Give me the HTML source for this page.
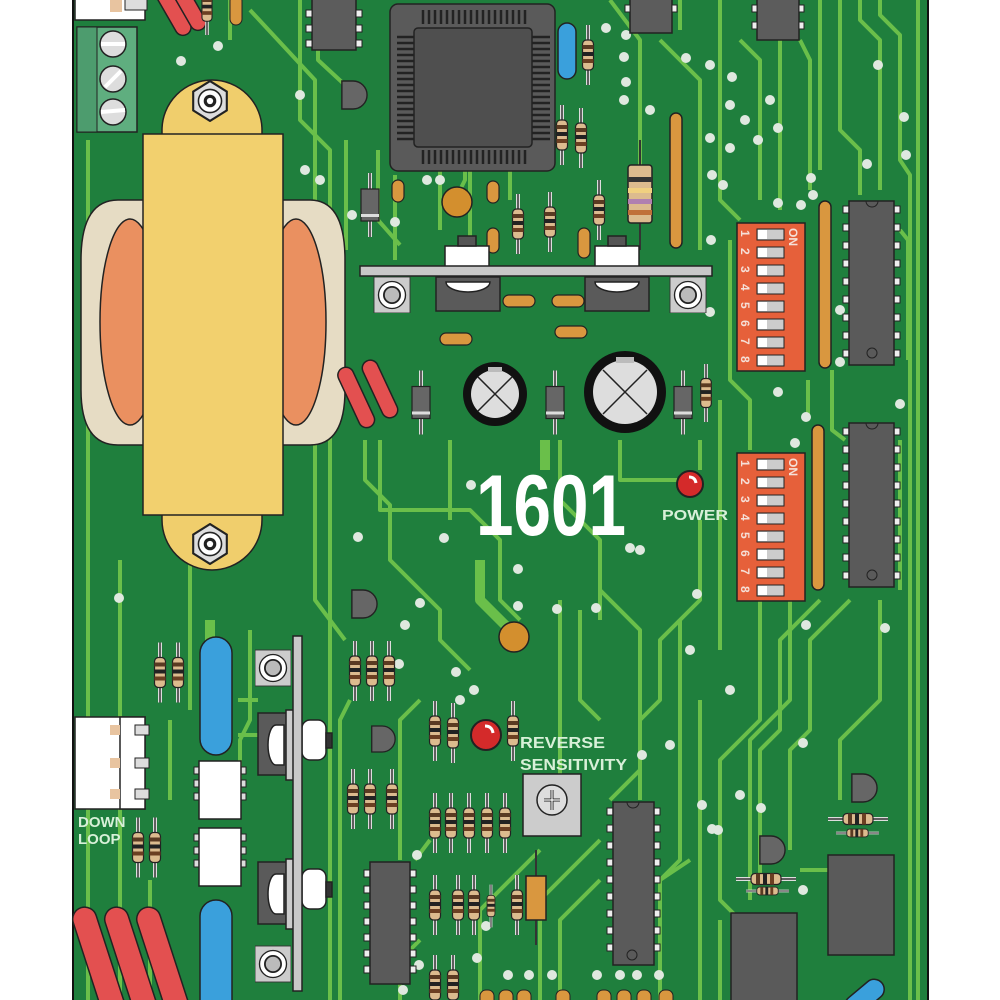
<!DOCTYPE html>
<html><head><meta charset="utf-8"><style>html,body{margin:0;padding:0;background:#fff}svg{display:block}</style></head>
<body>
<svg width="1000" height="1000" viewBox="0 0 1000 1000" xmlns="http://www.w3.org/2000/svg">
<defs>
<symbol id="rv" viewBox="0 0 14 60" overflow="visible">
<line x1="7" y1="0" x2="7" y2="60" stroke="#ddd" stroke-width="4"/>
<line x1="7" y1="0" x2="7" y2="60" stroke="#333" stroke-width="1.5"/>
<rect x="1.5" y="15" width="11" height="30" rx="4" fill="#dcbb8e" stroke="#222" stroke-width="1.2"/>
<rect x="1.5" y="20" width="11" height="4" fill="#5a3a22"/>
<rect x="1.5" y="27" width="11" height="4" fill="#222"/>
<rect x="1.5" y="34" width="11" height="4" fill="#6b3f22"/>
</symbol>
<symbol id="rh" viewBox="0 0 60 14" overflow="visible">
<line x1="0" y1="7" x2="60" y2="7" stroke="#ddd" stroke-width="4"/>
<line x1="0" y1="7" x2="60" y2="7" stroke="#333" stroke-width="1.5"/>
<rect x="15" y="1.5" width="30" height="11" rx="4" fill="#dcbb8e" stroke="#222" stroke-width="1.2"/>
<rect x="20" y="1.5" width="4" height="11" fill="#5a3a22"/>
<rect x="27" y="1.5" width="4" height="11" fill="#222"/>
<rect x="34" y="1.5" width="4" height="11" fill="#6b3f22"/>
</symbol>
<symbol id="dv" viewBox="0 0 20 64" overflow="visible">
<line x1="10" y1="0" x2="10" y2="64" stroke="#ddd" stroke-width="4"/>
<line x1="10" y1="0" x2="10" y2="64" stroke="#333" stroke-width="1.5"/>
<rect x="1" y="16" width="18" height="32" fill="#666" stroke="#222" stroke-width="1.2"/>
<rect x="1" y="41" width="18" height="3" fill="#ddd"/>
</symbol>
<symbol id="ring" viewBox="0 0 40 40">
<rect x="0" y="0" width="40" height="40" fill="#ccc" stroke="#333"/>
<circle cx="20" cy="20" r="15" fill="#fff" stroke="#222" stroke-width="1.5"/>
<circle cx="20" cy="20" r="9" fill="#bbb" stroke="#222" stroke-width="2"/>
</symbol>
<symbol id="nut" viewBox="-20 -20 40 40">
<polygon points="0,-19 16,-9 16,9 0,19 -16,9 -16,-9" fill="#ddd" stroke="#222" stroke-width="2"/>
<circle r="11" fill="#fff" stroke="#222" stroke-width="1.5"/>
<circle r="6" fill="#222"/><circle r="3" fill="#fff"/>
</symbol>
<symbol id="tr" viewBox="0 0 30 34">
<path d="M2,2 h12 a15,15 0 0 1 0,30 h-12 z" fill="#666" stroke="#222" stroke-width="1.5"/>
</symbol>
</defs>

<rect x="0" y="0" width="1000" height="1000" fill="#fff"/>
<rect x="73" y="-2" width="855" height="1004" fill="#1f7f3d" stroke="#111" stroke-width="2"/>

<!-- traces -->
<g fill="none" stroke="#6abf4a" stroke-width="4" stroke-linejoin="round">
<path d="M88,140 V1000"/><path d="M120,560 V1000"/><path d="M300,0 V120 L330,150 V620 L345,640"/>
<path d="M318,0 V60 L345,85"/><path d="M346,140 V250"/>
<path d="M230,0 V40"/><path d="M250,10 L315,80 V600 L330,620 V1000"/>
<path d="M378,150 V220 L400,245"/><path d="M395,175 V260"/>
<path d="M440,170 V230"/><path d="M470,170 V240"/>
<path d="M380,440 V510 H470 L500,540 V600 L520,620"/>
<path d="M365,440 V480 L390,505 V560 L440,610 V640 L470,670"/>
<path d="M450,440 V520"/><path d="M560,440 V500 L600,540 V620"/>
<path d="M620,440 V480 H700"/><path d="M700,440 V470"/>
<path d="M610,0 L640,40 V220"/><path d="M660,40 L700,80 V250"/>
<path d="M680,0 V30"/><path d="M720,0 V200 L740,220"/>
<path d="M740,40 L760,60 V200"/><path d="M780,40 V210"/><path d="M800,40 L810,60 V190"/>
<path d="M820,0 V170"/><path d="M840,0 V130 L860,150 V195"/><path d="M860,0 V20 L880,40 V190"/>
<path d="M880,0 V15 L900,35 V160 L910,175 V1000"/><path d="M918,0 V1000"/>
<path d="M730,240 V380 L750,400 V450"/><path d="M720,400 V650"/>
<path d="M808,380 V420"/><path d="M832,370 V430 L845,440"/>
<path d="M900,230 L908,240 V360"/><path d="M900,440 V590"/>
<path d="M700,520 V600 L660,640 V700 L640,720 V800"/>
<path d="M760,600 V720 L720,760 V900 L740,920"/>
<path d="M790,600 V700 L750,740 V900"/>
<path d="M820,600 L780,640 V730 L760,750 V880"/>
<path d="M850,600 L810,640 V730 L790,750 V850"/>
<path d="M880,600 V700 L840,740 V800"/>
<path d="M600,590 L640,630 V770 L610,800"/>
<path d="M560,600 V780"/><path d="M580,610 V700 L600,720"/>
<path d="M680,620 V860 L660,880 V1000"/><path d="M700,700 V1000"/>
<path d="M540,850 L480,910 V1000"/><path d="M600,840 L540,900 V1000"/><path d="M600,880 L560,920 V1000"/>
<path d="M660,880 L690,860"/>
<path d="M800,870 H870 M720,920 V1000"/>
<path d="M420,700 L400,720 V860"/><path d="M415,860 L430,840"/>
<path d="M350,700 L340,720 V1000"/><path d="M420,940 L400,960 V1000"/>
<path d="M250,630 V720 L240,740 V800"/><path d="M190,560 V710"/><path d="M170,720 V800"/>
<path d="M150,880 V1000"/>
<path d="M238,700 H258"/><path d="M238,735 H258"/>
<path d="M465,150 V180 L455,200"/><path d="M510,150 V200"/>
<path d="M250,240 V440"/>
</g>
<g fill="none" stroke="#6abf4a" stroke-width="10" stroke-linejoin="round">
<path d="M480,560 V600 L510,630"/><path d="M545,440 V470"/><path d="M210,620 V650"/>
</g>

<!-- vias -->
<g fill="#dfe8df">
<circle cx="181" cy="61" r="5"/><circle cx="218" cy="46" r="5"/><circle cx="300" cy="95" r="5"/><circle cx="305" cy="170" r="5"/><circle cx="307" cy="205" r="5"/><circle cx="320" cy="180" r="5"/><circle cx="338" cy="252" r="5"/><circle cx="352" cy="215" r="5"/><circle cx="395" cy="222" r="5"/><circle cx="427" cy="180" r="5"/><circle cx="440" cy="180" r="5"/>
<circle cx="606" cy="28" r="5"/><circle cx="626" cy="35" r="5"/><circle cx="624" cy="57" r="5"/><circle cx="626" cy="82" r="5"/><circle cx="624" cy="100" r="5"/><circle cx="686" cy="58" r="5"/><circle cx="650" cy="110" r="5"/><circle cx="710" cy="65" r="5"/><circle cx="730" cy="105" r="5"/><circle cx="732" cy="77" r="5"/><circle cx="770" cy="100" r="5"/><circle cx="745" cy="120" r="5"/><circle cx="710" cy="138" r="5"/><circle cx="730" cy="148" r="5"/><circle cx="712" cy="175" r="5"/><circle cx="723" cy="185" r="5"/><circle cx="778" cy="128" r="5"/><circle cx="758" cy="140" r="5"/><circle cx="811" cy="178" r="5"/><circle cx="801" cy="205" r="5"/><circle cx="878" cy="65" r="5"/><circle cx="904" cy="117" r="5"/><circle cx="906" cy="155" r="5"/><circle cx="867" cy="164" r="5"/><circle cx="813" cy="195" r="5"/><circle cx="778" cy="203" r="5"/>
<circle cx="710" cy="312" r="5"/><circle cx="711" cy="240" r="5"/><circle cx="778" cy="392" r="5"/><circle cx="840" cy="310" r="5"/><circle cx="840" cy="362" r="5"/><circle cx="900" cy="404" r="5"/><circle cx="806" cy="417" r="5"/><circle cx="795" cy="443" r="5"/><circle cx="630" cy="548" r="5"/><circle cx="640" cy="550" r="5"/><circle cx="697" cy="594" r="5"/><circle cx="690" cy="650" r="5"/><circle cx="730" cy="690" r="5"/><circle cx="806" cy="625" r="5"/><circle cx="885" cy="628" r="5"/>
<circle cx="471" cy="485" r="5"/><circle cx="518" cy="569" r="5"/><circle cx="444" cy="538" r="5"/><circle cx="518" cy="606" r="5"/><circle cx="557" cy="609" r="5"/><circle cx="596" cy="608" r="5"/><circle cx="456" cy="672" r="5"/><circle cx="405" cy="625" r="5"/><circle cx="399" cy="664" r="5"/><circle cx="119" cy="598" r="5"/><circle cx="358" cy="537" r="5"/><circle cx="420" cy="603" r="5"/><circle cx="460" cy="700" r="5"/>
<circle cx="474" cy="690" r="5"/><circle cx="642" cy="755" r="5"/><circle cx="670" cy="745" r="5"/><circle cx="702" cy="805" r="5"/><circle cx="718" cy="830" r="5"/><circle cx="740" cy="795" r="5"/><circle cx="761" cy="808" r="5"/><circle cx="712" cy="829" r="5"/><circle cx="803" cy="743" r="5"/><circle cx="803" cy="890" r="5"/><circle cx="417" cy="855" r="5"/><circle cx="419" cy="965" r="5"/><circle cx="403" cy="990" r="5"/><circle cx="508" cy="975" r="5"/><circle cx="529" cy="975" r="5"/><circle cx="552" cy="975" r="5"/><circle cx="597" cy="975" r="5"/><circle cx="620" cy="975" r="5"/><circle cx="637" cy="975" r="5"/><circle cx="659" cy="975" r="5"/><circle cx="477" cy="958" r="5"/><circle cx="486" cy="926" r="5"/>
</g>

<!-- top left connector -->
<rect x="75" y="-2" width="70" height="22" fill="#fff" stroke="#222" stroke-width="1.5"/>
<rect x="110" y="-2" width="12" height="14" fill="#e8c4a0"/><rect x="125" y="-2" width="22" height="12" fill="#ddd" stroke="#222"/>
<!-- terminal block -->
<rect x="77" y="27" width="60" height="105" fill="#5fae7f" stroke="#222" stroke-width="1.5"/>
<rect x="77" y="27" width="20" height="105" fill="#4d9c6e" stroke="#222" stroke-width="1"/>
<g stroke="#222" stroke-width="1.5"><circle cx="113" cy="44" r="13" fill="#ddd"/><circle cx="113" cy="79" r="13" fill="#ddd"/><circle cx="113" cy="112" r="13" fill="#ddd"/>
<line x1="101" y1="44" x2="125" y2="44" stroke="#fff" stroke-width="4"/><line x1="105" y1="87" x2="121" y2="71" stroke="#fff" stroke-width="4"/><line x1="101" y1="112" x2="125" y2="110" stroke="#fff" stroke-width="4"/></g>
<!-- red caps top -->
<g stroke="#222" stroke-width="1.5" fill="#e35050"><rect x="165" y="-20" width="16" height="58" rx="8" transform="rotate(-30 173 10)"/><rect x="180" y="-25" width="16" height="58" rx="8" transform="rotate(-30 188 5)"/></g>
<use href="#rv" x="200" y="-20" width="14" height="55"/>
<rect x="230" y="-5" width="12" height="30" rx="6" fill="#d9973f" stroke="#222"/>

<!-- transformer -->
<path d="M118,200 H310 Q345,200 345,260 V390 Q345,445 310,445 H118 Q81,445 81,390 V260 Q81,200 118,200 Z" fill="#e6dcc4" stroke="#222" stroke-width="1.5"/>
<ellipse cx="130" cy="322" rx="30" ry="103" fill="#ea9060" stroke="#222" stroke-width="1.5"/>
<ellipse cx="296" cy="322" rx="30" ry="103" fill="#ea9060" stroke="#222" stroke-width="1.5"/>
<path d="M162,155 V130 A50,50 0 0 1 262,130 V155 Z" fill="#f0ce6c" stroke="#222" stroke-width="1.5"/>
<path d="M162,500 V520 A50,50 0 0 0 262,520 V500 Z" fill="#f0ce6c" stroke="#222" stroke-width="1.5"/>
<rect x="143" y="134" width="140" height="381" fill="#f2d06e" stroke="#222" stroke-width="1.5"/>
<use href="#nut" x="189" y="80" width="42" height="42"/>
<use href="#nut" x="189" y="523" width="42" height="42"/>

<!-- top ICs -->
<g fill="#5c5c5c" stroke="#222" stroke-width="1.5">
<rect x="312" y="-5" width="44" height="55"/><rect x="630" y="-5" width="42" height="38"/><rect x="757" y="-5" width="42" height="45"/>
</g>
<g fill="#eee" stroke="#222"><rect x="306" y="10" width="6" height="7"/><rect x="306" y="25" width="6" height="7"/><rect x="306" y="40" width="6" height="7"/><rect x="356" y="10" width="6" height="7"/><rect x="356" y="25" width="6" height="7"/><rect x="356" y="40" width="6" height="7"/>
<rect x="625" y="5" width="5" height="7"/><rect x="672" y="5" width="5" height="7"/><rect x="752" y="5" width="5" height="7"/><rect x="752" y="22" width="5" height="7"/><rect x="799" y="5" width="5" height="7"/><rect x="799" y="22" width="5" height="7"/></g>
<use href="#tr" x="340" y="78" width="28" height="34"/>

<!-- QFP -->
<rect x="390" y="4" width="165" height="167" rx="8" fill="#5a5a5a" stroke="#222" stroke-width="1.5"/>
<g stroke="#222" stroke-width="2.5">
<path d="M423,10 v14 M429,10 v14 M435,10 v14 M441,10 v14 M447,10 v14 M453,10 v14 M459,10 v14 M465,10 v14 M471,10 v14 M477,10 v14 M483,10 v14 M489,10 v14 M495,10 v14 M501,10 v14 M507,10 v14 M513,10 v14 M519,10 v14 M525,10 v14"/>
<path d="M423,150 v14 M429,150 v14 M435,150 v14 M441,150 v14 M447,150 v14 M453,150 v14 M459,150 v14 M465,150 v14 M471,150 v14 M477,150 v14 M483,150 v14 M489,150 v14 M495,150 v14 M501,150 v14 M507,150 v14 M513,150 v14 M519,150 v14 M525,150 v14"/>
<path d="M397,37 h18 M397,43 h18 M397,49 h18 M397,55 h18 M397,61 h18 M397,67 h18 M397,73 h18 M397,79 h18 M397,85 h18 M397,91 h18 M397,97 h18 M397,103 h18 M397,109 h18 M397,115 h18 M397,121 h18 M397,127 h18 M397,133 h18 M397,139 h18"/>
<path d="M532,37 h18 M532,43 h18 M532,49 h18 M532,55 h18 M532,61 h18 M532,67 h18 M532,73 h18 M532,79 h18 M532,85 h18 M532,91 h18 M532,97 h18 M532,103 h18 M532,109 h18 M532,115 h18 M532,121 h18 M532,127 h18 M532,133 h18 M532,139 h18"/>
</g>
<rect x="414" y="28" width="118" height="119" rx="4" fill="#4f4f4f" stroke="#222" stroke-width="1.5"/>

<rect x="558" y="23" width="18" height="56" rx="9" fill="#3aa0dc" stroke="#222" stroke-width="1.5"/>
<use href="#rv" x="581" y="20" width="14" height="70"/>
<use href="#rv" x="555" y="100" width="14" height="70"/>
<use href="#rv" x="574" y="103" width="14" height="70"/>
<use href="#rv" x="511" y="190" width="14" height="68"/>
<use href="#rv" x="543" y="188" width="14" height="68"/>
<use href="#rv" x="592" y="180" width="14" height="60"/>
<g><line x1="640" y1="140" x2="640" y2="250" stroke="#333" stroke-width="2"/><rect x="628" y="165" width="24" height="58" rx="3" fill="#dcbb8e" stroke="#222" stroke-width="1.5"/><rect x="628" y="177" width="24" height="5" fill="#333"/><rect x="628" y="188" width="24" height="5" fill="#f0d080"/><rect x="628" y="199" width="24" height="5" fill="#b080b0"/><rect x="628" y="210" width="24" height="5" fill="#c0703a"/></g>
<rect x="670" y="113" width="12" height="135" rx="6" fill="#d9973f" stroke="#222" stroke-width="1.5"/>
<use href="#dv" x="360" y="165" width="20" height="80"/>
<g fill="#d9973f" stroke="#222" stroke-width="1.2">
<rect x="392" y="180" width="12" height="22" rx="6"/><rect x="487" y="181" width="12" height="22" rx="6"/><rect x="487" y="228" width="12" height="25" rx="6"/><rect x="578" y="228" width="12" height="30" rx="6"/>
<rect x="503" y="295" width="32" height="12" rx="6"/><rect x="552" y="295" width="32" height="12" rx="6"/><rect x="440" y="333" width="32" height="12" rx="6"/><rect x="555" y="326" width="32" height="12" rx="6"/>
</g>
<circle cx="457" cy="202" r="15" fill="#d38f2e" stroke="#222" stroke-width="1.5"/>

<!-- regulators -->
<g stroke="#222" stroke-width="1.5">
<rect x="445" y="246" width="44" height="21" fill="#fff"/><rect x="595" y="246" width="44" height="21" fill="#fff"/>
<rect x="458" y="236" width="18" height="10" fill="#555"/><rect x="608" y="236" width="18" height="10" fill="#555"/>
<rect x="360" y="266" width="352" height="10" fill="#c8c8c8"/>
<rect x="436" y="277" width="64" height="34" fill="#5a5a5a"/><rect x="585" y="277" width="64" height="34" fill="#5a5a5a"/>
<path d="M446,282 h44 a22,10 0 0 1 -44,0z" fill="#fff"/><path d="M595,282 h44 a22,10 0 0 1 -44,0z" fill="#fff"/>
</g>
<use href="#ring" x="372" y="277" width="40" height="36"/>
<use href="#ring" x="668" y="277" width="40" height="36"/>

<!-- red caps mid -->
<g stroke="#222" stroke-width="1.5" fill="#e35050"><rect x="348" y="365" width="16" height="65" rx="8" transform="rotate(-25 356 397)"/><rect x="372" y="358" width="16" height="62" rx="8" transform="rotate(-25 380 389)"/></g>
<use href="#dv" x="411" y="360" width="20" height="85"/>
<use href="#dv" x="545" y="360" width="20" height="85"/>
<use href="#dv" x="673" y="360" width="20" height="85"/>
<use href="#rv" x="699" y="364" width="14" height="58"/>
<circle cx="495" cy="394" r="32" fill="#111"/><circle cx="495" cy="394" r="24" fill="#ddd"/><path d="M478,377 L512,411 M512,377 L478,411" stroke="#222" stroke-width="1.5"/><rect x="488" y="367" width="14" height="5" fill="#bbb"/>
<circle cx="625" cy="392" r="41" fill="#111"/><circle cx="625" cy="392" r="32" fill="#ddd"/><path d="M603,370 L647,414 M647,370 L603,414" stroke="#222" stroke-width="1.5"/><rect x="616" y="357" width="18" height="6" fill="#bbb"/>

<!-- 1601 / power -->
<text x="476" y="535" font-family="Liberation Sans, sans-serif" font-weight="bold" font-size="86" fill="#fff" textLength="150" lengthAdjust="spacingAndGlyphs">1601</text>
<circle cx="690" cy="484" r="13" fill="#d42a2a" stroke="#222" stroke-width="2"/><path d="M689,477 q6,0 7,6" stroke="#fff" stroke-width="3" fill="none"/>
<text x="662" y="520" font-family="Liberation Sans, sans-serif" font-weight="bold" font-size="15" fill="#d8f0d8" textLength="66" lengthAdjust="spacingAndGlyphs">POWER</text>

<!-- DIP switches -->
<g font-family="Liberation Sans, sans-serif" font-weight="bold" font-size="12" fill="#fff">
<rect x="737" y="223" width="68" height="148" fill="#e6603a" stroke="#222" stroke-width="1.5"/>
<rect x="737" y="453" width="68" height="148" fill="#e6603a" stroke="#222" stroke-width="1.5"/>
</g>
<g id="dipA">
<g fill="#ccc" stroke="#222" stroke-width="1"><rect x="757" y="229" width="27" height="11"/><rect x="757" y="247" width="27" height="11"/><rect x="757" y="265" width="27" height="11"/><rect x="757" y="283" width="27" height="11"/><rect x="757" y="301" width="27" height="11"/><rect x="757" y="319" width="27" height="11"/><rect x="757" y="337" width="27" height="11"/><rect x="757" y="355" width="27" height="11"/></g>
<g fill="#fff"><rect x="758" y="230" width="9" height="9"/><rect x="758" y="248" width="9" height="9"/><rect x="758" y="266" width="9" height="9"/><rect x="758" y="284" width="9" height="9"/><rect x="758" y="302" width="9" height="9"/><rect x="758" y="320" width="9" height="9"/><rect x="758" y="338" width="9" height="9"/><rect x="758" y="356" width="9" height="9"/></g>
</g>
<use href="#dipA" x="0" y="230"/>
<g font-family="Liberation Sans, sans-serif" font-weight="bold" font-size="12" fill="#f5e0d8">
<text transform="translate(741,230) rotate(90)">1</text><text transform="translate(741,248) rotate(90)">2</text><text transform="translate(741,266) rotate(90)">3</text><text transform="translate(741,284) rotate(90)">4</text><text transform="translate(741,302) rotate(90)">5</text><text transform="translate(741,320) rotate(90)">6</text><text transform="translate(741,338) rotate(90)">7</text><text transform="translate(741,356) rotate(90)">8</text>
<text transform="translate(789,228) rotate(90)">ON</text>
<text transform="translate(741,460) rotate(90)">1</text><text transform="translate(741,478) rotate(90)">2</text><text transform="translate(741,496) rotate(90)">3</text><text transform="translate(741,514) rotate(90)">4</text><text transform="translate(741,532) rotate(90)">5</text><text transform="translate(741,550) rotate(90)">6</text><text transform="translate(741,568) rotate(90)">7</text><text transform="translate(741,586) rotate(90)">8</text>
<text transform="translate(789,458) rotate(90)">ON</text>
</g>
<rect x="819" y="201" width="12" height="167" rx="6" fill="#d9973f" stroke="#222" stroke-width="1.5"/>
<rect x="812" y="425" width="12" height="165" rx="6" fill="#d9973f" stroke="#222" stroke-width="1.5"/>
<g id="bigic">
<g fill="#eee" stroke="#222"><rect x="843" y="206" width="6" height="7"/><rect x="843" y="224" width="6" height="7"/><rect x="843" y="242" width="6" height="7"/><rect x="843" y="260" width="6" height="7"/><rect x="843" y="278" width="6" height="7"/><rect x="843" y="296" width="6" height="7"/><rect x="843" y="314" width="6" height="7"/><rect x="843" y="332" width="6" height="7"/><rect x="843" y="350" width="6" height="7"/>
<rect x="894" y="206" width="6" height="7"/><rect x="894" y="224" width="6" height="7"/><rect x="894" y="242" width="6" height="7"/><rect x="894" y="260" width="6" height="7"/><rect x="894" y="278" width="6" height="7"/><rect x="894" y="296" width="6" height="7"/><rect x="894" y="314" width="6" height="7"/><rect x="894" y="332" width="6" height="7"/><rect x="894" y="350" width="6" height="7"/></g>
<rect x="849" y="201" width="45" height="164" fill="#5a5a5a" stroke="#222" stroke-width="1.5"/>
<path d="M866,201 a6,6 0 0 0 12,0" fill="none" stroke="#222"/><circle cx="872" cy="353" r="5" fill="none" stroke="#222"/>
</g>
<use href="#bigic" x="0" y="222"/>

<!-- lower left -->
<use href="#rv" x="153" y="640" width="14" height="65"/>
<use href="#rv" x="171" y="640" width="14" height="65"/>
<rect x="200" y="637" width="32" height="118" rx="16" fill="#3aa0dc" stroke="#222" stroke-width="1.5"/>
<rect x="200" y="900" width="32" height="120" rx="16" fill="#3aa0dc" stroke="#222" stroke-width="1.5"/>
<g fill="#fff" stroke="#222" stroke-width="1.5"><rect x="75" y="717" width="70" height="92"/><rect x="120" y="717" width="25" height="92"/></g>
<g fill="#e8c4a0"><rect x="110" y="725" width="10" height="10"/><rect x="110" y="758" width="10" height="10"/><rect x="110" y="789" width="10" height="10"/></g>
<g fill="#ddd" stroke="#222"><rect x="135" y="725" width="14" height="10"/><rect x="135" y="758" width="14" height="10"/><rect x="135" y="789" width="14" height="10"/></g>
<text x="78" y="827" font-family="Liberation Sans, sans-serif" font-weight="bold" font-size="15" fill="#d8f0d8">DOWN</text>
<text x="78" y="844" font-family="Liberation Sans, sans-serif" font-weight="bold" font-size="15" fill="#d8f0d8">LOOP</text>
<use href="#rv" x="131" y="815" width="14" height="65"/>
<use href="#rv" x="148" y="815" width="14" height="65"/>
<g stroke="#222" stroke-width="1.5" fill="#e35050">
<rect x="86" y="905" width="24" height="130" rx="12" transform="rotate(-18 98 960)"/><rect x="118" y="905" width="24" height="130" rx="12" transform="rotate(-18 130 960)"/><rect x="150" y="905" width="24" height="130" rx="12" transform="rotate(-18 162 960)"/>
</g>
<g id="opto"><g fill="#ddd" stroke="#222"><rect x="194" y="767" width="5" height="7"/><rect x="194" y="780" width="5" height="7"/><rect x="194" y="793" width="5" height="7"/><rect x="241" y="767" width="5" height="7"/><rect x="241" y="780" width="5" height="7"/><rect x="241" y="793" width="5" height="7"/></g>
<rect x="199" y="761" width="42" height="58" fill="#fff" stroke="#222" stroke-width="1.5"/></g>
<use href="#opto" x="0" y="67"/>
<use href="#ring" x="255" y="648" width="36" height="40"/>
<use href="#ring" x="255" y="944" width="36" height="40"/>
<g stroke="#222" stroke-width="1.5">
<rect x="258" y="713" width="36" height="62" fill="#5a5a5a"/><rect x="258" y="862" width="36" height="62" fill="#5a5a5a"/>
<path d="M284,725 h-8 a8,20 0 0 0 0,40 h8z" fill="#fff"/><path d="M284,874 h-8 a8,20 0 0 0 0,40 h8z" fill="#fff"/>
<rect x="286" y="710" width="8" height="70" fill="#ccc"/><rect x="286" y="859" width="8" height="70" fill="#ccc"/>
<rect x="302" y="720" width="24" height="40" rx="8" fill="#fff"/><rect x="302" y="869" width="24" height="40" rx="8" fill="#fff"/>
<rect x="326" y="733" width="6" height="15" fill="#333"/><rect x="326" y="882" width="6" height="15" fill="#333"/>
<rect x="293" y="636" width="9" height="355" fill="#c8c8c8"/>
</g>

<!-- mid bottom -->
<use href="#tr" x="350" y="587" width="28" height="34"/>
<use href="#tr" x="370" y="722" width="26" height="34"/>
<circle cx="514" cy="637" r="15" fill="#d38f2e" stroke="#222" stroke-width="1.5"/>
<use href="#rv" x="348" y="637" width="14" height="68"/>
<use href="#rv" x="365" y="637" width="14" height="68"/>
<use href="#rv" x="382" y="637" width="14" height="68"/>
<use href="#rv" x="346" y="765" width="14" height="68"/>
<use href="#rv" x="363" y="765" width="14" height="68"/>
<use href="#rv" x="385" y="765" width="14" height="68"/>
<use href="#rv" x="428" y="698" width="14" height="66"/>
<use href="#rv" x="446" y="700" width="14" height="66"/>
<use href="#rv" x="506" y="698" width="14" height="66"/>
<circle cx="486" cy="735" r="15" fill="#d42a2a" stroke="#222" stroke-width="2"/><path d="M485,726 q7,0 8,7" stroke="#fff" stroke-width="3" fill="none"/>
<text x="520" y="748" font-family="Liberation Sans, sans-serif" font-weight="bold" font-size="16" fill="#d8f0d8" textLength="85" lengthAdjust="spacingAndGlyphs">REVERSE</text>
<text x="520" y="770" font-family="Liberation Sans, sans-serif" font-weight="bold" font-size="16" fill="#d8f0d8" textLength="107" lengthAdjust="spacingAndGlyphs">SENSITIVITY</text>
<rect x="523" y="774" width="58" height="62" fill="#ccc" stroke="#222" stroke-width="1.5"/>
<circle cx="552" cy="800" r="15" fill="#ddd" stroke="#222" stroke-width="1.5"/><path d="M552,790 v20 M544,800 h16" stroke="#222" stroke-width="3"/><path d="M552,790 v20 M544,800 h16" stroke="#fff" stroke-width="1.2"/>
<use href="#rv" x="428" y="788" width="14" height="70"/>
<use href="#rv" x="444" y="788" width="14" height="70"/>
<use href="#rv" x="462" y="788" width="14" height="70"/>
<use href="#rv" x="480" y="788" width="14" height="70"/>
<use href="#rv" x="498" y="788" width="14" height="70"/>
<use href="#rv" x="428" y="870" width="14" height="70"/>
<use href="#rv" x="451" y="870" width="14" height="70"/>
<use href="#rv" x="467" y="870" width="14" height="70"/>
<use href="#rv" x="486" y="876" width="10" height="60"/>
<use href="#rv" x="510" y="870" width="14" height="70"/>
<line x1="536" y1="850" x2="536" y2="945" stroke="#333" stroke-width="2"/>
<rect x="526" y="876" width="20" height="44" fill="#d9973f" stroke="#222" stroke-width="1.5"/>
<use href="#rv" x="428" y="955" width="14" height="60"/>
<use href="#rv" x="446" y="955" width="14" height="60"/>
<g fill="#d9973f" stroke="#222"><rect x="480" y="990" width="14" height="20" rx="6"/><rect x="499" y="990" width="14" height="20" rx="6"/><rect x="517" y="990" width="14" height="20" rx="6"/><rect x="556" y="990" width="14" height="20" rx="6"/><rect x="597" y="990" width="14" height="20" rx="6"/><rect x="617" y="990" width="14" height="20" rx="6"/><rect x="637" y="990" width="14" height="20" rx="6"/><rect x="659" y="990" width="14" height="20" rx="6"/></g>

<!-- lower ICs -->
<g id="ic14"><g fill="#eee" stroke="#222"><rect x="364" y="870" width="6" height="7"/><rect x="364" y="886" width="6" height="7"/><rect x="364" y="902" width="6" height="7"/><rect x="364" y="918" width="6" height="7"/><rect x="364" y="934" width="6" height="7"/><rect x="364" y="950" width="6" height="7"/><rect x="364" y="966" width="6" height="7"/><rect x="410" y="870" width="6" height="7"/><rect x="410" y="886" width="6" height="7"/><rect x="410" y="902" width="6" height="7"/><rect x="410" y="918" width="6" height="7"/><rect x="410" y="934" width="6" height="7"/><rect x="410" y="950" width="6" height="7"/><rect x="410" y="966" width="6" height="7"/></g>
<rect x="370" y="862" width="40" height="122" fill="#5a5a5a" stroke="#222" stroke-width="1.5"/></g>
<g fill="#eee" stroke="#222"><rect x="607" y="808" width="6" height="7"/><rect x="607" y="825" width="6" height="7"/><rect x="607" y="842" width="6" height="7"/><rect x="607" y="859" width="6" height="7"/><rect x="607" y="876" width="6" height="7"/><rect x="607" y="893" width="6" height="7"/><rect x="607" y="910" width="6" height="7"/><rect x="607" y="927" width="6" height="7"/><rect x="607" y="944" width="6" height="7"/>
<rect x="654" y="808" width="6" height="7"/><rect x="654" y="825" width="6" height="7"/><rect x="654" y="842" width="6" height="7"/><rect x="654" y="859" width="6" height="7"/><rect x="654" y="876" width="6" height="7"/><rect x="654" y="893" width="6" height="7"/><rect x="654" y="910" width="6" height="7"/><rect x="654" y="927" width="6" height="7"/><rect x="654" y="944" width="6" height="7"/></g>
<rect x="613" y="802" width="41" height="163" fill="#5a5a5a" stroke="#222" stroke-width="1.5"/>
<path d="M627,802 a6,6 0 0 0 12,0" fill="none" stroke="#222"/><circle cx="632" cy="955" r="5" fill="none" stroke="#222"/>
<rect x="731" y="913" width="66" height="100" fill="#5a5a5a" stroke="#222" stroke-width="1.5"/>
<rect x="828" y="855" width="66" height="100" fill="#5a5a5a" stroke="#222" stroke-width="1.5"/>
<use href="#tr" x="758" y="832" width="28" height="36"/>
<use href="#tr" x="850" y="770" width="28" height="36"/>
<use href="#rh" x="733" y="872" width="66" height="14"/>
<use href="#rh" x="740" y="886" width="55" height="10"/>
<use href="#rh" x="823" y="812" width="70" height="14"/>
<use href="#rh" x="830" y="828" width="55" height="10"/>
<rect x="855" y="975" width="20" height="45" rx="10" fill="#3aa0dc" stroke="#222" stroke-width="1.5" transform="rotate(50 865 997)"/>
</svg>
</body></html>
